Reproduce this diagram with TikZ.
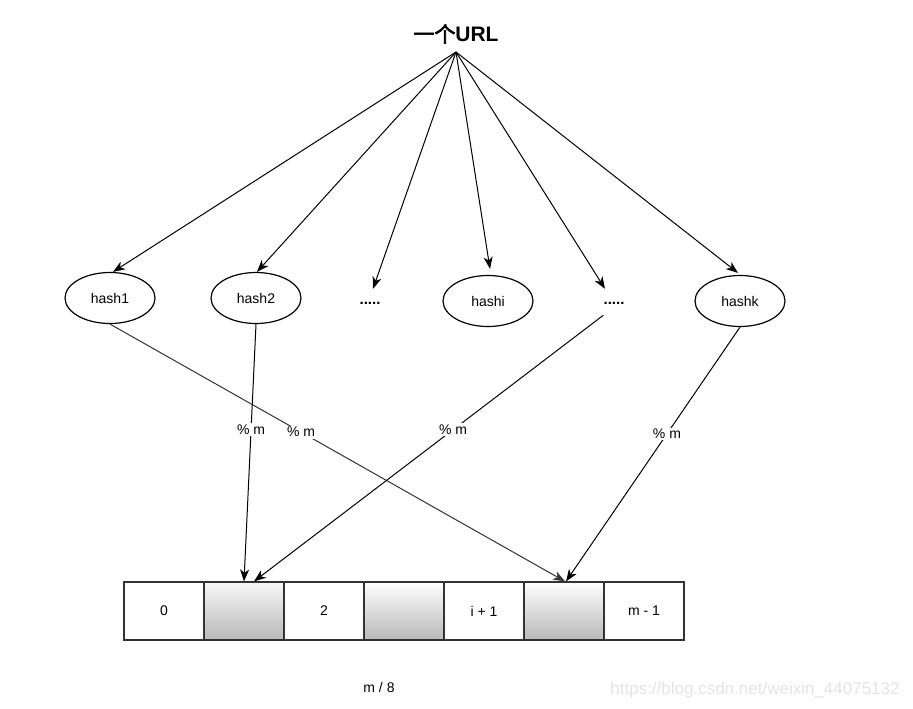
\documentclass[tikz,border=0pt]{standalone}
\usepackage{fontspec}
\setmainfont{Liberation Sans}
\newfontfamily\cjk{Noto Sans CJK SC}[AutoFakeBold=3]
\usetikzlibrary{shapes.geometric,arrows.meta}

\tikzset{
    hashnode/.style={ellipse, draw, line width=1.2pt, minimum width=90pt, minimum height=51pt, inner sep=0pt},
    dotsnode/.style={font=\bfseries\fontsize{15}{17}\selectfont, minimum height=28pt, inner sep=0pt},
    cell/.style={draw=black!80, line width=1.2pt, minimum width=80pt, minimum height=58pt, inner sep=0pt},
    graycell/.style={cell, top color=gray!6, bottom color=gray!55},
    glosscell/.style={cell, top color=white, middle color=gray!18, bottom color=gray!55},
    modlabel/.style={fill=white, text=black, inner sep=1.5pt},
    hasharrow/.style={-{Stealth[length=12pt, width=9pt, inset=3.5pt]}, line width=1pt}
}

\begin{document}
\begin{tikzpicture}[x=1pt, y=-1pt, font=\fontsize{14}{16}\selectfont]
    \useasboundingbox (0,0) rectangle (913,709);

    % The url on top
    \node[anchor=base, inner sep=0pt, font=\fontsize{21}{24}\selectfont\bfseries] (url) at (456,42) {{\cjk\bfseries 一个}URL};
    \coordinate (src) at (456,52);

    % The hash functions
    \node[hashnode] (h1) at (110,298) {hash1};
    \node[hashnode] (h2) at (256,298) {hash2};
    \node[dotsnode] (d1) at (370,303) {.....};
    \node[hashnode] (hi) at (488,301) {hashi};
    \node[dotsnode] (d2) at (614,303) {.....};
    \node[hashnode] (hk) at (740,301) {hashk};

    \draw[hasharrow] (src) -- ([xshift=3pt]h1.north);
    \draw[hasharrow] (src) -- ([xshift=1pt]h2.north);
    \draw[hasharrow] (src) -- ([xshift=3pt]d1.north);
    \draw[hasharrow] (src) -- ([xshift=2pt, yshift=6pt]hi.north);
    \draw[hasharrow] (src) -- ([xshift=-9pt]d2.north);
    \draw[hasharrow] (src) -- ([xshift=-2pt, yshift=2pt]hk.north);

    % The bit array
    \node[cell] (c0) at (164,611) {0};
    \node[graycell] (c1) at (244,611) {};
    \node[cell] (c2) at (324,611) {2};
    \node[glosscell] (c3) at (404,611) {};
    \node[cell] (c4) at (484,611) {i + 1};
    \node[glosscell] (c5) at (564,611) {};
    \node[cell] (c6) at (644,611) {m - 1};

    % The modulo connectors
    \draw[hasharrow, black!80] (h1.south) -- node[modlabel, pos=0.42] (m1) {\% m} ([xshift=1pt]c5.north);
    \draw[hasharrow] (h2.south) -- node[modlabel, pos=0.41] (m2) {\% m} (c1.north);
    \draw[hasharrow] ([yshift=2pt]d2.south west) -- node[modlabel, pos=0.43] (m3) {\% m} ([xshift=10pt]c1.north);
    \draw[hasharrow] (hk.south) -- node[modlabel, pos=0.42] (m4) {\% m} ([xshift=2pt]c5.north);

    % Size of the array
    \node (size) at (379,687) {m / 8};
    \node[text=gray!22, font=\fontsize{17}{19}\selectfont] (mark) at (755,690) {https://blog.csdn.net/weixin\_44075132};

\end{tikzpicture}
\end{document}
